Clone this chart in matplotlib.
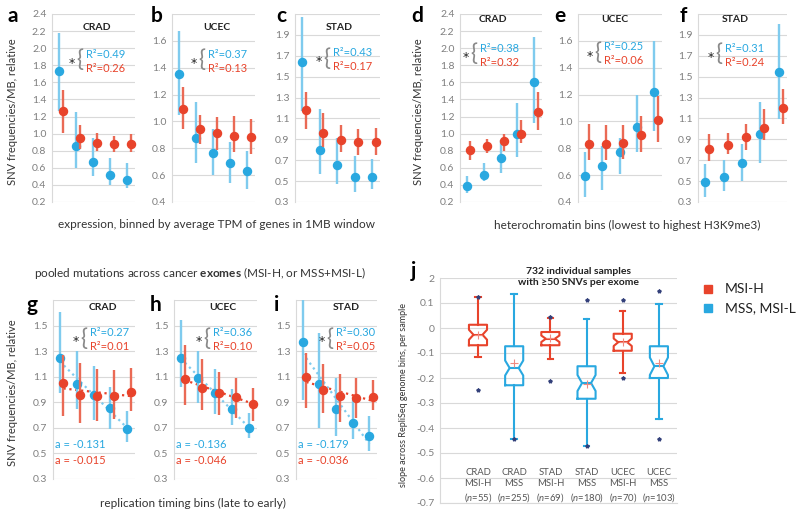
import numpy as np
import matplotlib
matplotlib.use('Agg')
import matplotlib.pyplot as plt
from matplotlib.patches import Rectangle

plt.rcParams['font.family'] = ['Lato', 'DejaVu Sans']
plt.rcParams['mathtext.fontset'] = 'custom'
plt.rcParams['mathtext.rm'] = 'Lato'
plt.rcParams['mathtext.it'] = 'Lato:italic'
plt.rcParams['mathtext.bf'] = 'Lato:bold'

# ---- data: rows are CRAD, UCEC, STAD; 5 bins each ----
# expression bins (a-c)
expr_mss = [[1.73, 0.86, 0.67, 0.52, 0.46], [1.35, 0.877, 0.765, 0.693, 0.63], [1.64, 0.80, 0.65, 0.54, 0.54]]
expr_mss_lo = [[1.27, 0.60, 0.50, 0.40, 0.36], [1.05, 0.69, 0.60, 0.54, 0.50], [1.17, 0.57, 0.47, 0.40, 0.42]]
expr_mss_hi = [[2.18, 1.25, 0.95, 0.72, 0.66], [1.67, 1.145, 0.947, 0.85, 0.78], [2.07, 1.19, 0.91, 0.74, 0.71]]
expr_msi = [[1.27, 0.95, 0.89, 0.875, 0.875], [1.09, 0.94, 0.915, 0.89, 0.885], [1.18, 0.96, 0.89, 0.87, 0.87]]
expr_msi_lo = [[1.01, 0.82, 0.80, 0.79, 0.79], [0.94, 0.835, 0.79, 0.77, 0.76], [1.00, 0.83, 0.78, 0.75, 0.75]]
expr_msi_hi = [[1.51, 1.10, 1.01, 0.97, 0.99], [1.26, 1.05, 1.03, 1.04, 1.02], [1.35, 1.15, 1.04, 1.00, 1.01]]

# heterochromatin bins (d-f)
het_mss = [[0.39, 0.52, 0.71, 1.00, 1.60], [0.59, 0.67, 0.77, 0.955, 1.22], [0.49, 0.535, 0.67, 0.95, 1.54]]
het_mss_lo = [[0.31, 0.44, 0.54, 0.725, 1.12], [0.44, 0.49, 0.61, 0.77, 0.93], [0.35, 0.41, 0.50, 0.67, 1.09]]
het_mss_hi = [[0.50, 0.655, 0.93, 1.36, 2.13], [0.77, 0.82, 0.875, 1.20, 1.60], [0.66, 0.70, 0.86, 1.26, 2.00]]
het_msi = [[0.81, 0.86, 0.91, 0.997, 1.25], [0.83, 0.83, 0.84, 0.90, 1.01], [0.81, 0.85, 0.92, 1.01, 1.20]]
het_msi_lo = [[0.69, 0.77, 0.80, 0.89, 1.04], [0.71, 0.71, 0.72, 0.77, 0.85], [0.69, 0.76, 0.80, 0.89, 1.05]]
het_msi_hi = [[0.91, 0.94, 1.00, 1.16, 1.49], [0.98, 0.97, 0.97, 1.04, 1.19], [0.95, 0.96, 1.05, 1.19, 1.38]]

# replication timing bins (g-i)
rep_mss = [[1.25, 1.04, 0.96, 0.854, 0.69], [1.25, 1.09, 0.976, 0.844, 0.696], [1.375, 1.04, 0.85, 0.735, 0.64]]
rep_mss_lo = [[0.97, 0.845, 0.76, 0.69, 0.59], [1.02, 0.896, 0.81, 0.72, 0.62], [0.92, 0.70, 0.64, 0.61, 0.52]]
rep_mss_hi = [[1.61, 1.305, 1.18, 1.02, 0.83], [1.54, 1.305, 1.157, 1.007, 0.82], [1.70, 1.44, 1.09, 0.92, 0.79]]
rep_msi = [[1.05, 0.96, 0.95, 0.95, 0.98], [1.085, 1.015, 0.974, 0.942, 0.89], [1.098, 0.994, 0.95, 0.935, 0.942]]
rep_msi_lo = [[0.79, 0.735, 0.755, 0.77, 0.83], [0.88, 0.84, 0.80, 0.78, 0.756], [0.857, 0.813, 0.743, 0.774, 0.839]]
rep_msi_hi = [[1.27, 1.21, 1.16, 1.15, 1.17], [1.35, 1.235, 1.137, 1.093, 1.01], [1.287, 1.196, 1.124, 1.09, 1.072]]

cancers = ['CRAD', 'UCEC', 'STAD']
r2_expr_mss = ['0.49', '0.37', '0.43']
r2_expr_msi = ['0.26', '0.13', '0.17']
r2_het_mss = ['0.38', '0.25', '0.31']
r2_het_msi = ['0.32', '0.06', '0.24']
r2_rep_mss = ['0.27', '0.36', '0.30']
r2_rep_msi = ['0.01', '0.10', '0.05']
slope_mss = ['-0.131', '-0.136', '-0.179']
slope_msi = ['-0.015', '-0.046', '-0.036']

# panel j boxplot stats
box_groups = ['CRAD\nMSI-H', 'CRAD\nMSS', 'STAD\nMSI-H', 'STAD\nMSS', 'UCEC\nMSI-H', 'UCEC\nMSS']
box_n = [55, 255, 69, 180, 70, 103]
box_is_msi = [True, False, True, False, True, False]
box_whislo = [-0.117, -0.443, -0.123, -0.471, -0.180, -0.363]
box_q1 = [-0.069, -0.229, -0.069, -0.283, -0.091, -0.200]
box_med = [-0.027, -0.160, -0.043, -0.220, -0.057, -0.153]
box_q3 = [0.013, -0.073, -0.016, -0.153, -0.023, -0.073]
box_whishi = [0.124, 0.136, 0.040, 0.037, 0.069, 0.097]
box_mean = [-0.027, -0.140, -0.040, -0.223, -0.056, -0.140]
box_notch = [0.020, 0.030, 0.013, 0.032, 0.015, 0.035]
box_min = [-0.247, -0.443, -0.213, -0.471, -0.200, -0.444]
box_max = [0.124, 0.216, 0.043, 0.111, 0.111, 0.147]

BLUE = '#29a8e0'
BLUE_LT = '#7fcbee'
RED = '#e8432b'
GREY = '#7f7f7f'
GRID = '#d9d9d9'
TXT = '#333333'

W, H = 800, 514
fig = plt.figure(figsize=(8, 5.14), dpi=100)


def rect(l, t, r, b):
    return [l / W, 1 - b / H, (r - l) / W, (b - t) / H]


def ftext(x, y, s, **kw):
    return fig.text(x / W, 1 - y / H, s, **kw)


def style_axes(ax, ylim, ticks, labels):
    ax.set_ylim(*ylim)
    ax.set_yticks(ticks)
    ax.set_yticklabels(labels)
    ax.set_xticks([])
    ax.tick_params(axis='y', length=0, pad=4, labelsize=7.5, labelcolor=GREY)
    ax.grid(axis='y', color=GRID, lw=0.8)
    ax.set_axisbelow(True)
    for s in ['top', 'right', 'bottom']:
        ax.spines[s].set_visible(False)
    ax.spines['left'].set_color(GRID)
    ax.spines['left'].set_linewidth(0.8)


def dot_panel(box, ylo, yhi, hide_top, i, mss, mss_lo, mss_hi, msi, msi_lo, msi_hi,
              title_xy, r2_mss, r2_msi, r2_xy, trend=False):
    ax = fig.add_axes(rect(*box))
    ax.set_xlim(0.55, 5.4)
    ticks = np.round(np.arange(ylo, yhi + 0.001, 0.2), 1)
    labels = ['%.1f' % t for t in ticks]
    if hide_top:
        labels[-1] = ''
    style_axes(ax, (ylo, yhi), ticks, labels)

    xb = np.arange(1, 6) - 0.05
    xr = xb + 0.22
    yb = np.array(mss[i])
    yr = np.array(msi[i])
    eb = [yb - np.array(mss_lo[i]), np.array(mss_hi[i]) - yb]
    er = [yr - np.array(msi_lo[i]), np.array(msi_hi[i]) - yr]

    if trend:
        pb = np.polyfit(xb, yb, 1)
        pr = np.polyfit(xr, yr, 1)
        ax.plot(xb, np.polyval(pb, xb), ls=':', lw=1.6, color=BLUE_LT, zorder=2)
        ax.plot(xr, np.polyval(pr, xr), ls=':', lw=1.6, color=RED, zorder=2)

    ax.errorbar(xb, yb, yerr=eb, fmt='o', color=BLUE, ecolor=BLUE_LT, ms=5.8,
                elinewidth=1.7, capsize=0, clip_on=False, zorder=3)
    ax.errorbar(xr, yr, yerr=er, fmt='o', color=RED, ecolor='#ea6a55', ms=5.8,
                elinewidth=1.7, capsize=0, clip_on=False, zorder=4)

    ftext(title_xy[0], title_xy[1], cancers[i], ha='center', va='center',
          fontsize=7.5, fontweight='bold', color='#222222')
    tx, ty = r2_xy
    ftext(tx, ty, 'R\u00b2=' + r2_mss, color=BLUE, fontsize=8, va='center')
    ftext(tx, ty + 14, 'R\u00b2=' + r2_msi, color=RED, fontsize=8, va='center')
    # grey brace and significance star
    ftext(tx - 6, ty + 6, '{', color='#8a8a8a', fontsize=17, va='center', ha='center')
    ftext(tx - 14, ty + 9, '*', color='#222222', fontsize=9, va='center', ha='center',
          family='DejaVu Sans')
    return ax


# ---- row 1: expression (a-c), heterochromatin (d-f) ----
top_layout = [
    # box, ylo, yhi, hide_top, letter_xy, title_xy, r2_xy
    ((52, 14, 135, 202), 0.2, 2.4, False, (13, 16), (97, 27), (86, 54)),
    ((172, 14, 255, 202), 0.4, 1.8, True, (157, 16), (217, 27), (208, 54)),
    ((295, 14, 380, 202), 0.3, 2.1, True, (281, 16), (339, 27), (333, 53)),
]
het_layout = [
    ((460, 14, 542, 202), 0.2, 2.4, False, (417, 16), (493, 20), (480, 48)),
    ((578, 14, 662, 202), 0.4, 1.8, True, (560, 16), (615, 20), (604, 47)),
    ((698, 14, 787, 202), 0.3, 2.1, True, (683, 16), (735, 19), (725, 48)),
]
rep_layout = [
    ((53, 300, 135, 479), 0.3, 1.7, True, (32, 305), (103, 307), (90, 333)),
    ((174, 300, 257, 479), 0.3, 1.7, True, (156, 305), (223, 307), (213, 333)),
    ((296, 300, 377, 479), 0.3, 1.7, True, (277, 305), (346, 307), (336, 333)),
]

for i, (box, ylo, yhi, hide, lxy, txy, rxy) in enumerate(top_layout):
    dot_panel(box, ylo, yhi, hide, i, expr_mss, expr_mss_lo, expr_mss_hi,
              expr_msi, expr_msi_lo, expr_msi_hi, txy, r2_expr_mss[i], r2_expr_msi[i], rxy)
    ftext(lxy[0], lxy[1], 'abc'[i], fontsize=15, fontweight='bold', va='center', ha='center')

for i, (box, ylo, yhi, hide, lxy, txy, rxy) in enumerate(het_layout):
    dot_panel(box, ylo, yhi, hide, i, het_mss, het_mss_lo, het_mss_hi,
              het_msi, het_msi_lo, het_msi_hi, txy, r2_het_mss[i], r2_het_msi[i], rxy)
    ftext(lxy[0], lxy[1], 'def'[i], fontsize=15, fontweight='bold', va='center', ha='center')

for i, (box, ylo, yhi, hide, lxy, txy, rxy) in enumerate(rep_layout):
    dot_panel(box, ylo, yhi, hide, i, rep_mss, rep_mss_lo, rep_mss_hi,
              rep_msi, rep_msi_lo, rep_msi_hi, txy, r2_rep_mss[i], r2_rep_msi[i], rxy,
              trend=True)
    ftext(lxy[0], lxy[1], 'ghi'[i], fontsize=15, fontweight='bold', va='center', ha='center')
    ftext(box[0] + 2, 445, 'a = ' + slope_mss[i], color=BLUE, fontsize=8, va='center')
    ftext(box[0] + 2, 461, 'a = ' + slope_msi[i], color=RED, fontsize=8, va='center')

ylab = 'SNV frequencies/MB, relative'
ftext(13, 112, ylab, rotation=90, ha='center', va='center', fontsize=8, color=TXT)
ftext(418, 112, ylab, rotation=90, ha='center', va='center', fontsize=8, color=TXT)
ftext(13, 393, ylab, rotation=90, ha='center', va='center', fontsize=8, color=TXT)

ftext(217, 224, 'expression, binned by average TPM of genes in 1MB window',
      ha='center', va='center', fontsize=8.5, color=TXT)
ftext(627, 225, 'heterochromatin bins (lowest to highest H3K9me3)',
      ha='center', va='center', fontsize=8.5, color=TXT)
ftext(200, 273, r'pooled mutations across cancer $\bf{exomes}$ (MSI-H, or MSS+MSI-L)',
      ha='center', va='center', fontsize=8.5, color=TXT)
ftext(193, 503, 'replication timing bins (late to early)',
      ha='center', va='center', fontsize=8.5, color=TXT)

# ---- panel j ----
axj = fig.add_axes(rect(440, 278, 677, 503))
jt = np.round(np.arange(-0.7, 0.2001, 0.1), 1)
jl = ['%g' % t if t != 0 else '0' for t in jt]
jl[-1] = '2'
style_axes(axj, (-0.7, 0.2), jt, jl)
axj.spines['bottom'].set_visible(True)
axj.spines['bottom'].set_color(GRID)
axj.set_xlim(-0.05, 6.5)

pos = np.arange(1, 7)
for k in range(6):
    col = RED if box_is_msi[k] else BLUE
    st = [dict(med=box_med[k], q1=box_q1[k], q3=box_q3[k],
               whislo=box_whislo[k], whishi=box_whishi[k], mean=box_mean[k],
               cilo=box_med[k] - box_notch[k], cihi=box_med[k] + box_notch[k],
               fliers=[])]
    axj.bxp(st, positions=[pos[k]], widths=0.5, shownotches=True, showmeans=True,
            showfliers=False, capwidths=0.15,
            boxprops=dict(color=col, lw=1.5),
            whiskerprops=dict(color=col, lw=1.5),
            capprops=dict(color=col, lw=1.5),
            medianprops=dict(color=col, lw=1.5),
            meanprops=dict(marker='+', markeredgecolor='#f08a80', markersize=6,
                           markeredgewidth=0.8))
axj.plot(pos, box_min, ls='none', marker='*', ms=2.8, color='#33407a', zorder=5)
axj.plot(pos, box_max, ls='none', marker='*', ms=2.8, color='#33407a', zorder=5)
axj.set_xticks([])

for k in range(6):
    axj.text(pos[k], -0.6, box_groups[k], ha='center', va='center', fontsize=6.8,
             color='#555555', linespacing=1.25)
    axj.text(pos[k], -0.68, r'($\it{n}$=%d)' % box_n[k], ha='center', va='center',
             fontsize=6.8, color='#555555')

ftext(413, 271, 'j', fontsize=15, fontweight='bold', va='center', ha='center')
ftext(578, 277, '732 individual samples\nwith \u226550 SNVs per exome', ha='center',
      va='center', fontsize=7.5, fontweight='bold', color='#222222', linespacing=1.3)
ftext(404, 395, 'slope across RepliSeq genome bins, per sample', rotation=90,
      ha='center', va='center', fontsize=6.5, color=TXT)

# legend
for yy, col, lab in [(289, RED, 'MSI-H'), (308, BLUE, 'MSS, MSI-L')]:
    fig.add_artist(Rectangle(((704) / W, 1 - (yy + 4) / H), 8 / W, 8 / H,
                             transform=fig.transFigure, color=col))
    ftext(725, yy, lab, fontsize=10, va='center', color='#222222')

fig.savefig('out.png', dpi=100)
